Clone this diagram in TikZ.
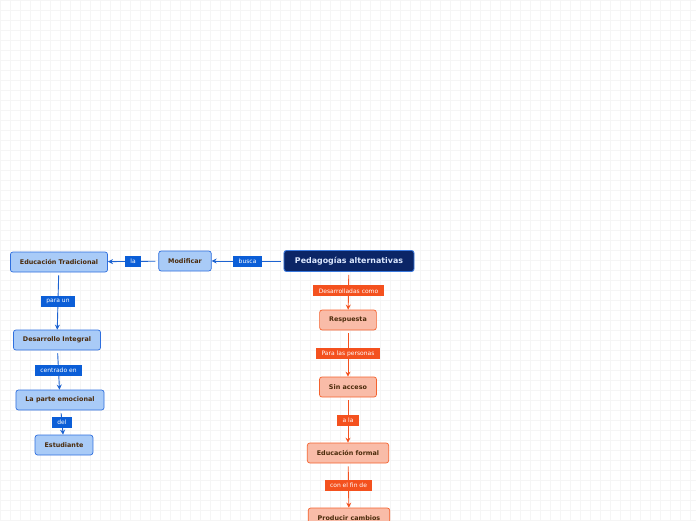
\documentclass[tikz,border=0pt]{standalone}
\usepackage{fontspec}
\setmainfont{DejaVu Sans}
\usetikzlibrary{arrows.meta}
\begin{document}
\begin{tikzpicture}[x=1pt,y=-1pt,font=\fontsize{6.4pt}{7.5pt}\selectfont,
  topic/.style={draw=mainborder,fill=mainfill,text=maintext,rounded corners=2.5pt,line width=0.9pt,
    minimum height=21pt,inner xsep=11pt,font=\fontsize{7.9pt}{9pt}\selectfont\bfseries},
  bluebox/.style={draw=blueborder,fill=bluefill,text=boxtext,rounded corners=2.5pt,line width=0.7pt,
    minimum height=20pt,inner xsep=9.5pt,font=\fontsize{6.4pt}{7.5pt}\selectfont\bfseries},
  orangebox/.style={draw=orangeborder,fill=orangefill,text=boxtext,rounded corners=2.5pt,line width=0.7pt,
    minimum height=20pt,inner xsep=9.5pt,font=\fontsize{6.4pt}{7.5pt}\selectfont\bfseries},
  bluelbl/.style={fill=bluelabel,text=white,inner xsep=5.5pt,inner ysep=0pt,minimum height=11pt,
    font=\fontsize{6pt}{7pt}\selectfont},
  orangelbl/.style={fill=orangelabel,text=white,inner xsep=5.5pt,inner ysep=0pt,minimum height=11pt,
    font=\fontsize{6pt}{7pt}\selectfont},
  blueline/.style={draw=blueline,line width=0.9pt,-{Stealth[length=5pt,width=5pt]},shorten <=3pt},
  orangeline/.style={draw=orangeline,line width=0.9pt,-{Stealth[length=5pt,width=5pt]},shorten <=3pt}]
\definecolor{gridgray}{HTML}{F5F5F5}
\definecolor{mainfill}{HTML}{0B2566}
\definecolor{mainborder}{HTML}{3A78DD}
\definecolor{maintext}{HTML}{DCE8FF}
\definecolor{bluefill}{HTML}{A9CBF7}
\definecolor{blueborder}{HTML}{2F6FDE}
\definecolor{bluelabel}{HTML}{0B5ED7}
\definecolor{blueline}{HTML}{1D63D1}
\definecolor{orangefill}{HTML}{F9BCA8}
\definecolor{orangeborder}{HTML}{F4622E}
\definecolor{orangelabel}{HTML}{F4511E}
\definecolor{orangeline}{HTML}{F4511E}
\definecolor{boxtext}{HTML}{4A2A0A}
\useasboundingbox (0,0) rectangle (696,520);
\fill[white] (0,0) rectangle (696,520);
\draw[gridgray,line width=0.5pt,step=10pt] (0,0) grid (696,520);
% main topic
\node[topic] (ped) at (349,261) {Pedagogías alternativas};
% left branch
\node[bluebox] (mod) at (185,261) {Modificar};
\node[bluebox] (trad) at (59,262) {Educación Tradicional};
\node[bluebox] (integral) at (57,340) {Desarrollo Integral};
\node[bluebox] (emocional) at (60,400) {La parte emocional};
\node[bluebox] (estudiante) at (64,445) {Estudiante};
% down branch
\node[orangebox] (respuesta) at (348,320) {Respuesta};
\node[orangebox] (acceso) at (348,387) {Sin acceso};
\node[orangebox] (formal) at (348,453) {Educación formal};
\node[orangebox] (cambios) at (349,518) {Producir cambios};
% connectors
\draw[blueline] (ped) -- node[bluelbl] {busca} (mod);
\draw[blueline] (mod) -- node[bluelbl] {la} (trad);
\draw[blueline] (trad) -- node[bluelbl] {para un} (integral);
\draw[blueline] (integral) -- node[bluelbl] {centrado en} (emocional);
\draw[blueline] (emocional) -- node[bluelbl] {del} (estudiante);
\draw[orangeline] (ped) -- node[orangelbl] {Desarrolladas como} (respuesta);
\draw[orangeline] (respuesta) -- node[orangelbl] {Para las personas} (acceso);
\draw[orangeline] (acceso) -- node[orangelbl] {a la} (formal);
\draw[orangeline] (formal) -- node[orangelbl] {con el fin de} (cambios);
\end{tikzpicture}
\end{document}
